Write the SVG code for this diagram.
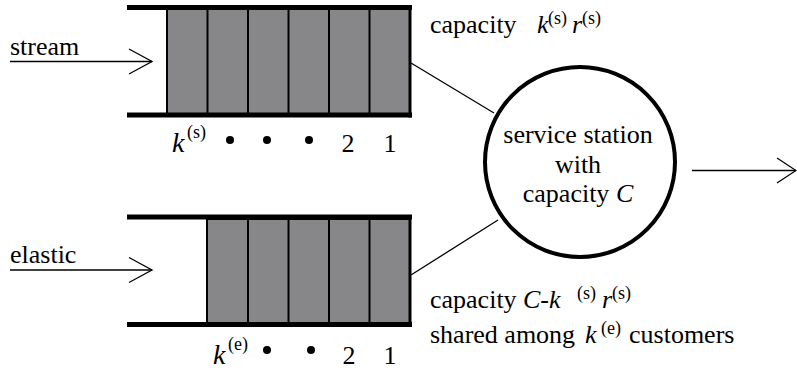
<svg xmlns="http://www.w3.org/2000/svg" width="797" height="371" viewBox="0 0 797 371">
<style>
text{font-family:"Liberation Serif","Times New Roman",Times,serif;font-size:26px;fill:#000}
.i{font-style:italic}
.k{font-style:italic;font-size:28px}
.sup{font-size:18px;font-style:normal}
.cell{fill:#878689;stroke:#000;stroke-width:2}
.div{stroke:#000;stroke-width:2}
.bar{stroke:#000;stroke-width:5;fill:none}
.edge{stroke:#000;stroke-width:3;fill:none}
.thin{stroke:#000;stroke-width:1.3;fill:none}
.dot{fill:#000}
</style>
<rect width="797" height="371" fill="#fff"/>
<g id="queue-stream">
<rect class="cell" x="167" y="9" width="243" height="106"/>
<line class="div" x1="207.5" y1="9" x2="207.5" y2="115"/>
<line class="div" x1="248" y1="9" x2="248" y2="115"/>
<line class="div" x1="288.5" y1="9" x2="288.5" y2="115"/>
<line class="div" x1="329" y1="9" x2="329" y2="115"/>
<line class="div" x1="369.5" y1="9" x2="369.5" y2="115"/>
<line class="bar" x1="127" y1="7.5" x2="412" y2="7.5"/>
<line class="bar" x1="127" y1="115" x2="412" y2="115"/>
<line class="edge" x1="410" y1="5" x2="410" y2="117.5"/>
<text x="172" y="152"><tspan class="k">k</tspan><tspan class="sup" x="187" y="138">(s)</tspan></text>
<circle class="dot" cx="230" cy="140" r="4"/>
<circle class="dot" cx="267" cy="140" r="4"/>
<circle class="dot" cx="309" cy="140" r="4"/>
<text x="348" y="152" text-anchor="middle">2</text>
<text x="390" y="152" text-anchor="middle">1</text>
</g>
<g id="queue-elastic">
<rect class="cell" x="207" y="219" width="203" height="104"/>
<line class="div" x1="248" y1="219" x2="248" y2="323"/>
<line class="div" x1="288.5" y1="219" x2="288.5" y2="323"/>
<line class="div" x1="329" y1="219" x2="329" y2="323"/>
<line class="div" x1="369.5" y1="219" x2="369.5" y2="323"/>
<line class="bar" x1="127" y1="217" x2="412" y2="217"/>
<line class="bar" x1="127" y1="324.5" x2="412" y2="324.5"/>
<line class="edge" x1="410" y1="215" x2="410" y2="327"/>
<text x="213" y="364"><tspan class="k">k</tspan><tspan class="sup" x="228" y="350">(e)</tspan></text>
<circle class="dot" cx="267" cy="350" r="4"/>
<circle class="dot" cx="311" cy="350" r="4"/>
<text x="349" y="364" text-anchor="middle">2</text>
<text x="390" y="364" text-anchor="middle">1</text>
</g>
<g id="station">
<circle cx="580" cy="162" r="95" fill="#fff" stroke="#000" stroke-width="4"/>
<text x="578" y="143" text-anchor="middle">service station</text>
<text x="578" y="173" text-anchor="middle">with</text>
<text x="578" y="202" text-anchor="middle">capacity <tspan class="i">C</tspan></text>
</g>
<g id="label-stream">
<text x="10" y="55">stream</text>
</g>
<g id="label-elastic">
<text x="10" y="263">elastic</text>
</g>
<g id="label-capacity-stream">
<text x="430" y="33">capacity<tspan class="i" x="537">k</tspan><tspan class="sup" x="548" y="24">(s)</tspan><tspan class="i" x="572" y="33">r</tspan><tspan class="sup" x="582" y="24">(s)</tspan></text>
</g>
<g id="label-capacity-elastic">
<text x="430" y="308">capacity<tspan class="i" x="523">C-k</tspan><tspan class="sup" x="577" y="299">(s)</tspan><tspan class="i" x="602" y="308">r</tspan><tspan class="sup" x="612" y="299">(s)</tspan></text>
<text x="430" y="343">shared among<tspan class="i" x="585">k</tspan><tspan class="sup" x="601" y="334">(e)</tspan><tspan x="629" y="343">customers</tspan></text>
</g>
<g id="connectors" class="thin">
<line x1="10" y1="61.5" x2="152" y2="61.5"/>
<polyline points="129,49 152,61.5 129,74"/>
<line x1="10" y1="270" x2="152" y2="270"/>
<polyline points="129,257.5 152,270 129,282.5"/>
<line x1="411" y1="63" x2="494" y2="113"/>
<line x1="411" y1="275" x2="498" y2="220"/>
<line x1="692" y1="170.5" x2="796" y2="170.5"/>
<polyline points="777,158 796,170.5 777,183"/>
</g>
</svg>
